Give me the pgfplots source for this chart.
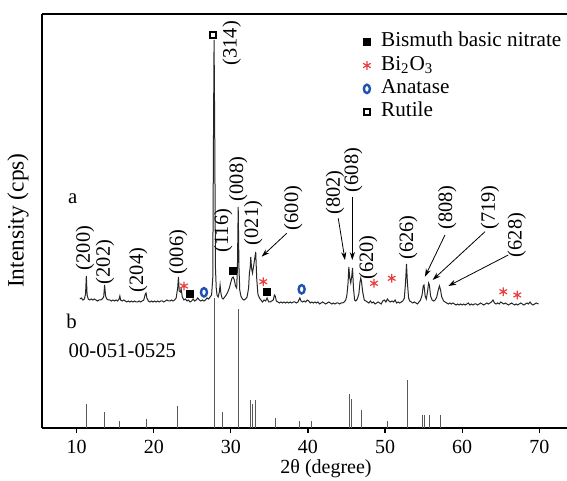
\documentclass[border=0pt]{standalone}
\usepackage{fontspec}
\setmainfont{Liberation Serif}
\usepackage{pgfplots}
\pgfplotsset{compat=1.18}
\usetikzlibrary{arrows.meta}
\definecolor{astred}{RGB}{232,64,64}
\definecolor{anablue}{RGB}{32,80,176}
\pgfplotsset{
  lgmark/.style={only marks, legend image code/.code={\draw[##1] plot coordinates {(0pt,0pt)};}},
}
\tikzset{hkl/.style={rotate=90, anchor=center, inner sep=0pt, font=\fontsize{10.2}{12}\selectfont}}
\begin{document}
\begin{tikzpicture}
\useasboundingbox (-21pt,-26.5pt) rectangle (262.5pt,214pt);
\begin{axis}[
  scale only axis, width=262.5pt, height=207pt,
  xmin=5.5, xmax=73.6, ymin=0, ymax=414,
  axis x line*=box, axis y line*=left,
  axis line style={line width=0.8pt},
  xtick={10,20,30,40,50,60,70}, ytick=\empty,
  xtick pos=bottom, tick align=outside, major tick length=2.5pt,
  tick style={line width=0.6pt, black},
  /pgf/number format/assume math mode=true,
  ticklabel style={font=\fontsize{10}{12}\selectfont},
  xlabel={2θ (degree)}, ylabel={Intensity (cps)},
  xlabel style={at={(rel axis cs:0.541,0)}, anchor=center, yshift=-20.5pt, font=\fontsize{10}{12}\selectfont},
  ylabel style={at={(rel axis cs:-0.0457,0.501)}, anchor=center, font=\fontsize{11.7}{14}\selectfont},
  legend style={at={(axis cs:47.1,398)}, anchor=north west, draw=none, fill=none,
    inner sep=0pt, row sep=0pt, font=\fontsize{10.6}{12.5}\selectfont,
    nodes={inner sep=1pt, text height=7.2pt, text depth=2.5pt},
    /tikz/every odd column/.append style={column sep=4.2pt}},
  legend cell align=left,
  clip=false,
]
% legend marker series
\addplot[lgmark, mark=square*, mark size=1.7pt, black] coordinates {(24.7,133.7) (30.23,157) (34.64,135.7)};
\addlegendentry{Bismuth basic nitrate}
\addplot[lgmark, mark=asterisk, mark size=2.2pt, astred, line width=0.6pt] coordinates {(23.92,142) (34.2,146.3) (48.56,144.7) (50.86,149.7) (65.33,136.3) (67.15,133)};
\addlegendentry{Bi\textsubscript{2}O\textsubscript{3}}
\addplot[lgmark, mark=o, mark size=2.1pt, anablue, mark options={line width=1.2pt, xscale=0.72}] coordinates {(26.51,135.7) (39.18,138.7)};
\addlegendentry{Anatase}
\addplot[lgmark, mark=square, mark size=1.5pt, black, mark options={line width=0.95pt}] coordinates {(27.72,393)};
\addlegendentry{Rutile}
% reference pattern b (00-051-0525)
\addplot[ycomb, black!65, line width=0.5pt, forget plot] coordinates {
(11.25,24) (13.6,16) (15.55,7) (19.0,9) (23.1,22) (27.85,130) (28.95,16) (30.97,119)
(32.6,28) (32.8,24) (33.2,28) (35.8,10) (38.9,7) (40.5,7) (45.4,34) (45.7,29) (46.9,18)
(50.3,7) (52.9,48) (54.9,13) (55.1,13) (55.8,13) (57.15,13) (57.25,13)};
% measured pattern a
\addplot[black!85, line width=0.5pt, forget plot] coordinates {
(10.4,129)(10.6,130)(10.8,128)(11.0,129)(11.15,134)(11.25,152)(11.35,133)(11.5,129)(11.7,128)(11.9,129)
(12.1,128)(12.3,129)(12.5,128)(12.7,127)(12.9,128)(13.1,128)(13.3,129)(13.5,131)(13.62,143)(13.75,132)
(13.9,129)(14.1,128)(14.3,128)(14.5,127)(14.7,128)(14.9,127)(15.1,128)(15.3,127)(15.5,129)(15.6,132)
(15.7,128)(15.9,127)(16.1,128)(16.3,127)(16.5,126)(16.7,127)(16.9,126)(17.1,127)(17.3,126)(17.5,127)
(17.7,126)(17.9,126)(18.1,127)(18.3,126)(18.5,127)(18.7,128)(18.9,134)(19.0,135)(19.1,130)(19.3,127)
(19.5,126)(19.7,127)(19.9,126)(20.1,127)(20.3,126)(20.5,127)(20.7,126)(20.9,127)(21.1,127)(21.3,126)
(21.5,127)(21.7,128)(21.9,127)(22.1,127)(22.3,128)(22.5,127)(22.7,128)(22.9,130)(23.1,140)(23.2,151)
(23.3,137)(23.45,136)(23.55,139)(23.7,131)(23.9,128)(24.1,129)(24.3,127)(24.5,128)(24.7,126)(24.9,127)
(25.1,129)(25.3,127)(25.5,128)(25.7,130)(25.9,128)(26.1,127)(26.3,128)(26.5,127)(26.7,128)(26.9,130)
(27.1,129)(27.3,131)(27.5,133)(27.65,150)(27.75,300)(27.82,388)(27.9,300)(28.0,160)(28.1,140)(28.2,133)
(28.35,131)(28.5,136)(28.6,143)(28.7,135)(28.85,130)(29.0,129)(29.2,131)(29.4,133)(29.6,136)(29.8,140)
(30.0,146)(30.15,150)(30.3,151)(30.45,148)(30.6,142)(30.75,140)(30.85,160)(30.95,221)(31.05,160)(31.15,138)
(31.3,132)(31.5,129)(31.7,128)(31.9,129)(32.1,131)(32.3,140)(32.4,155)(32.5,160)(32.58,171)(32.68,160)
(32.8,155)(32.95,162)(33.1,170)(33.22,176)(33.35,150)(33.5,134)(33.7,130)(33.9,128)(34.1,126)(34.3,128)
(34.5,127)(34.7,130)(34.9,126)(35.1,126)(35.3,127)(35.5,128)(35.65,133)(35.75,132)(35.9,127)(36.1,126)
(36.3,125)(36.5,126)(36.7,125)(36.9,126)(37.1,125)(37.3,126)(37.5,125)(37.7,126)(37.9,125)(38.1,126)
(38.3,126)(38.5,125)(38.7,126)(38.95,130)(39.1,127)(39.3,126)(39.5,127)(39.7,126)(39.9,128)(40.1,127)
(40.3,125)(40.5,126)(40.7,125)(40.9,126)(41.1,125)(41.3,126)(41.5,124)(41.7,125)(41.9,126)(42.1,125)
(42.3,124)(42.5,125)(42.7,126)(42.9,125)(43.1,124)(43.3,125)(43.5,124)(43.7,125)(43.9,125)(44.1,124)
(44.3,125)(44.5,125)(44.7,126)(44.9,128)(45.05,133)(45.2,145)(45.3,161)(45.42,150)(45.55,145)(45.68,152)
(45.78,160)(45.9,140)(46.05,128)(46.2,127)(46.4,129)(46.6,134)(46.75,146)(46.85,150)(46.95,146)(47.1,136)
(47.3,128)(47.5,127)(47.7,126)(47.9,125)(48.1,127)(48.3,125)(48.5,126)(48.7,124)(48.9,125)(49.1,126)
(49.3,125)(49.5,124)(49.7,127)(49.9,128)(50.1,126)(50.3,129)(50.5,127)(50.7,126)(50.9,127)(51.1,126)
(51.3,128)(51.5,125)(51.7,126)(51.9,125)(52.1,126)(52.3,127)(52.5,130)(52.65,145)(52.78,164)(52.9,145)
(53.05,130)(53.2,127)(53.4,126)(53.6,125)(53.8,126)(54.0,125)(54.2,124)(54.4,126)(54.6,128)(54.8,133)
(54.95,142)(55.05,143)(55.2,132)(55.35,129)(55.5,136)(55.65,145)(55.75,143)(55.9,132)(56.1,128)(56.3,127)
(56.5,128)(56.7,131)(56.9,138)(57.05,142)(57.2,138)(57.35,131)(57.6,127)(57.8,126)(58.0,125)(58.2,124)
(58.4,125)(58.6,124)(58.8,125)(59.0,124)(59.2,123)(59.4,124)(59.6,123)(59.8,124)(60.0,123)(60.2,124)
(60.4,123)(60.6,124)(60.8,125)(61.0,123)(61.2,124)(61.4,123)(61.6,124)(61.8,124)(62.0,123)(62.2,124)
(62.4,125)(62.6,124)(62.8,123)(63.0,124)(63.2,125)(63.4,124)(63.6,125)(63.8,126)(64.0,128)(64.2,125)
(64.4,124)(64.6,125)(64.8,124)(65.0,126)(65.2,125)(65.4,124)(65.6,125)(65.8,124)(66.0,123)(66.2,124)
(66.4,125)(66.6,124)(66.8,123)(67.0,124)(67.2,123)(67.4,124)(67.6,125)(67.8,124)(68.0,123)(68.2,124)
(68.4,125)(68.6,124)(68.8,126)(69.0,124)(69.2,123)(69.4,124)(69.6,125)(69.9,124)};
% peak labels
\node[hkl] at (axis cs:11.08,180) {(200)};
\node[hkl] at (axis cs:13.67,166) {(202)};
\node[hkl] at (axis cs:17.99,158) {(204)};
\node[hkl] at (axis cs:23.18,176) {(006)};
\node[hkl] at (axis cs:29.01,197.3) {(116)};
\node[hkl] at (axis cs:30.96,249) {(008)};
\node[hkl] at (axis cs:32.9,205) {(021)};
\node[hkl] at (axis cs:38.09,220) {(600)};
\node[hkl] at (axis cs:30.1,384.7) {(314)};
\node[hkl] at (axis cs:43.5,235.5) {(802)};
\node[hkl] at (axis cs:45.88,258) {(608)};
\node[hkl] at (axis cs:47.82,170.5) {(620)};
\node[hkl] at (axis cs:53.0,190.5) {(626)};
\node[hkl] at (axis cs:58.07,220.5) {(808)};
\node[hkl] at (axis cs:63.6,220.5) {(719)};
\node[hkl] at (axis cs:67.07,193) {(628)};
% leader arrows
\begin{scope}[line width=0.4pt, -{Stealth[length=4pt,width=2.6pt]}]
\draw (axis cs:37.24,194.7) -- (axis cs:33.99,171.3);
\draw (axis cs:43.93,209.7) -- (axis cs:44.8,168);
\draw (axis cs:45.75,231.3) -- (axis cs:45.75,168);
\draw (axis cs:57.77,193) -- (axis cs:55.17,151.3);
\draw (axis cs:62.96,196.3) -- (axis cs:56.17,148);
\draw (axis cs:65.98,173) -- (axis cs:58.2,142);
\end{scope}
% pattern labels
\node[anchor=center, font=\fontsize{10.4}{12}\selectfont] at (axis cs:9.48,229.7) {a};
\node[anchor=center, font=\fontsize{10.4}{12}\selectfont] at (axis cs:9.35,106.3) {b};
\node[anchor=west, inner sep=0pt, font=\fontsize{10.4}{12}\selectfont] at (axis cs:8.91,77.3) {00-051-0525};
\end{axis}
\end{tikzpicture}
\end{document}
